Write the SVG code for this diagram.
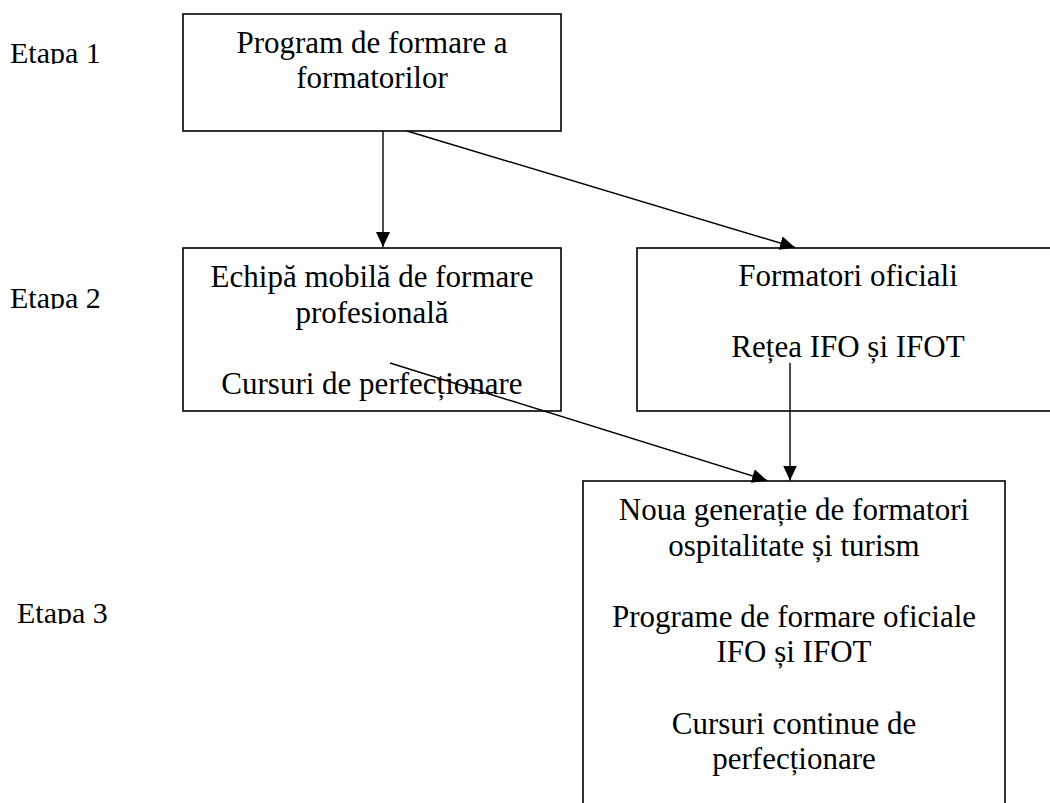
<svg xmlns="http://www.w3.org/2000/svg" width="1050" height="803" viewBox="0 0 1050 803">
  <style>
    .box { fill: #ffffff; stroke: #000000; stroke-width: 1.6; }
    .label { font-family: "Liberation Serif", "Times New Roman", serif; font-size: 31px; fill: #000000; text-anchor: middle; }
    .stage { font-family: "Liberation Serif", "Times New Roman", serif; font-size: 30px; fill: #000000; }
    .link { fill: none; stroke: #000000; stroke-width: 1.4; marker-end: url(#head); }
  </style>
  <defs>
    <marker id="head" markerUnits="userSpaceOnUse" markerWidth="16" markerHeight="14" refX="15" refY="7" orient="auto">
      <path d="M0,0 L15,7 L0,14 Z" fill="#000000"/>
    </marker>
    <!-- stage captions are cut just below their baseline -->
    <clipPath id="clip-stage1"><rect x="0" y="30" width="170" height="34"/></clipPath>
    <clipPath id="clip-stage2"><rect x="0" y="275" width="170" height="34"/></clipPath>
    <clipPath id="clip-stage3"><rect x="0" y="590" width="170" height="34"/></clipPath>
  </defs>
  <rect width="1050" height="803" fill="#ffffff"/>

  <!-- stage captions -->
  <g id="stages">
    <text class="stage" x="10" y="63" clip-path="url(#clip-stage1)">Etapa 1</text>
    <text class="stage" x="10" y="308" clip-path="url(#clip-stage2)">Etapa 2</text>
    <text class="stage" x="17" y="623" clip-path="url(#clip-stage3)">Etapa 3</text>
  </g>

  <g id="node-program">
    <rect class="box" x="183" y="14" width="378" height="117"/>
    <text class="label" x="372" y="53">Program de formare a</text>
    <text class="label" x="372" y="88">formatorilor</text>
  </g>

  <g id="node-echipa">
    <rect class="box" x="183" y="248" width="378" height="163"/>
    <text class="label" x="372" y="287">Echipă mobilă de formare</text>
    <text class="label" x="372" y="322.5">profesională</text>
    <text class="label" x="372" y="394">Cursuri de perfecționare</text>
  </g>

  <g id="node-formatori">
    <rect class="box" x="637" y="248" width="424" height="163"/>
    <text class="label" x="848" y="286">Formatori oficiali</text>
    <text class="label" x="848" y="357">Rețea IFO și IFOT</text>
  </g>

  <g id="node-generatie">
    <rect class="box" x="583" y="481" width="422" height="340"/>
    <text class="label" x="794" y="520">Noua generație de formatori</text>
    <text class="label" x="794" y="555.5">ospitalitate și turism</text>
    <text class="label" x="794" y="626.5">Programe de formare oficiale</text>
    <text class="label" x="794" y="662">IFO și IFOT</text>
    <text class="label" x="794" y="733.5">Cursuri continue de</text>
    <text class="label" x="794" y="769">perfecționare</text>
  </g>

  <g id="connectors">
    <line class="link" x1="383" y1="131" x2="383" y2="247"/>
    <line class="link" x1="407" y1="131" x2="795" y2="247.5"/>
    <line class="link" x1="390" y1="363" x2="767" y2="480.5"/>
    <line class="link" x1="790" y1="363" x2="790" y2="480.5"/>
  </g>
</svg>
